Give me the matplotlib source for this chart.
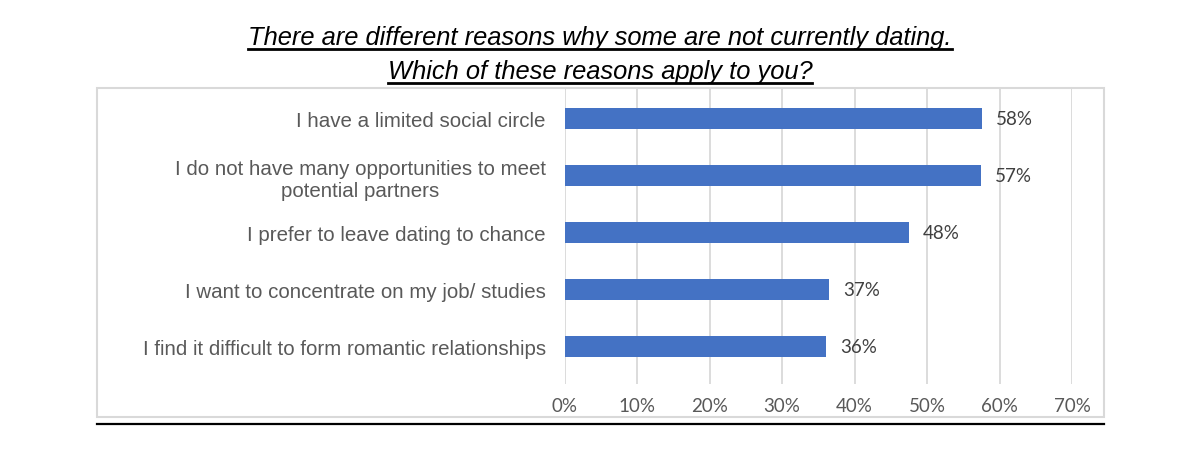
import matplotlib
matplotlib.use("Agg")
import matplotlib.pyplot as plt
from matplotlib.lines import Line2D
from matplotlib.patches import Rectangle

# data
reasons = ["I have a limited social circle",
           "I do not have many opportunities to meet\npotential partners",
           "I prefer to leave dating to chance",
           "I want to concentrate on my job/ studies",
           "I find it difficult to form romantic relationships"]
shares = [57.6, 57.4, 47.5, 36.5, 36.1]
share_labels = ["58%", "57%", "48%", "37%", "36%"]
xticks = [0, 10, 20, 30, 40, 50, 60, 70]
title_lines = ["There are different reasons why some are not currently dating.",
               "Which of these reasons apply to you?"]

fig = plt.figure(figsize=(12, 4.52), dpi=100)
ax = fig.add_axes([564.6 / 1200, 1 - 385 / 452, (1072 - 564.6) / 1200, (385 - 90) / 452])

ypos = list(range(len(reasons)))
ax.barh(ypos, shares, height=0.37, color="#4472C4", zorder=3)
for y, v, lab in zip(ypos, shares, share_labels):
    ax.text(v + 1.9, y, lab, va="center", ha="left", fontsize=13.5,
            family="Lato", color="#404040")

ax.set_xlim(0, 70)
ax.set_ylim(4.66, -0.52)
ax.set_xticks(xticks)
ax.set_xticklabels([f"{t}%" for t in xticks], family="Lato", fontsize=13.5, color="#595959")
ax.set_yticks(ypos)
ax.set_yticklabels(reasons, family="Liberation Sans", fontsize=14.8, color="#595959")
for lbl in ax.get_yticklabels():
    lbl.set_multialignment("center")
    lbl.set_linespacing(1.25)
ax.tick_params(axis="both", length=0)
ax.tick_params(axis="x", pad=9)
ax.tick_params(axis="y", pad=13.5)
ax.grid(axis="x", color="#d9d9d9", lw=1.3, zorder=0)
for s in ax.spines.values():
    s.set_visible(False)

# outer chart box and black rule under it
fig.add_artist(Rectangle((97 / 1200, 1 - 418 / 452), 1007 / 1200, 329 / 452,
                         transform=fig.transFigure, fill=False, ec="#d9d9d9", lw=1.5))
fig.add_artist(Line2D([97 / 1200, 1104 / 1200], [1 - 425 / 452] * 2,
                      transform=fig.transFigure, color="black", lw=1.6))

# underlined italic title
fig.canvas.draw()
renderer = fig.canvas.get_renderer()
for line, yc in zip(title_lines, [38, 72]):
    t = fig.text(0.5, 1 - yc / 452, line, ha="center", va="center", fontsize=18.4,
                 style="italic", family="Liberation Sans", color="black")
    bb = t.get_window_extent(renderer=renderer).transformed(fig.transFigure.inverted())
    fig.add_artist(Line2D([bb.x0, bb.x1], [bb.y0 - 0.001] * 2,
                          transform=fig.transFigure, color="black", lw=2))

fig.savefig("out.png", dpi=100)
